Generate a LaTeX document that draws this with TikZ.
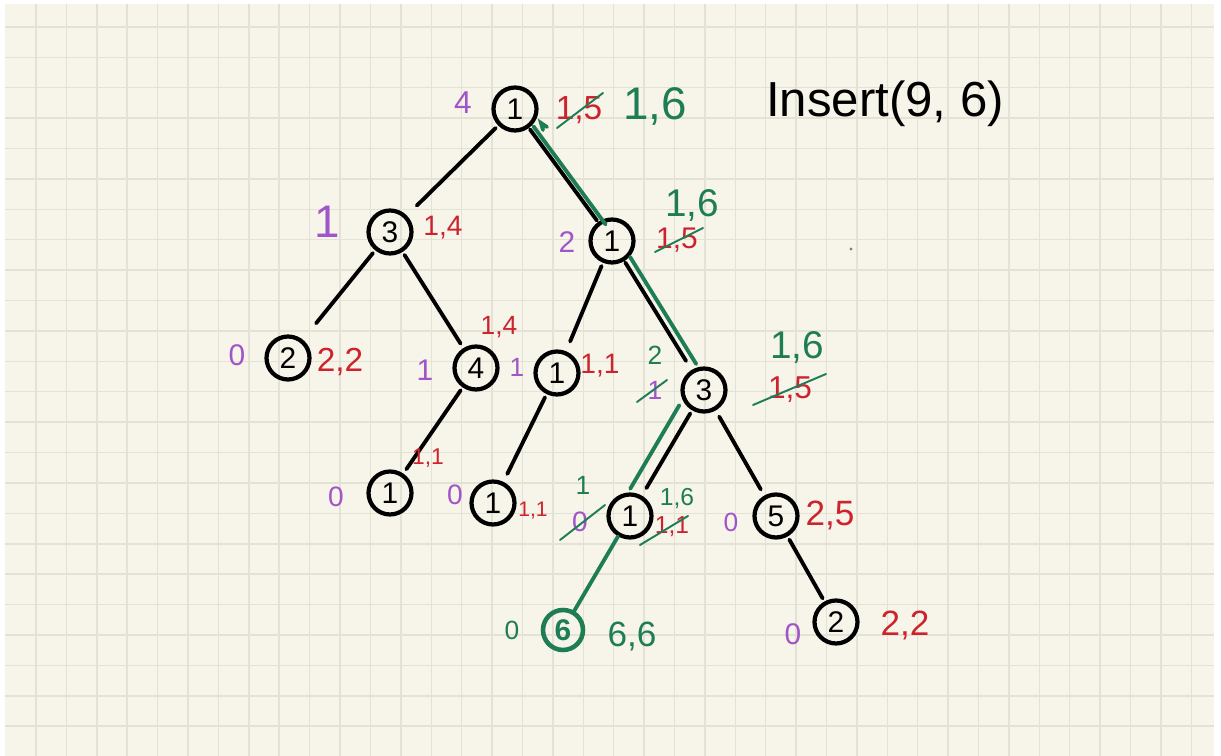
\documentclass[tikz,border=0pt]{standalone}
\usepackage{fontspec}
\setmainfont{Liberation Sans}
\definecolor{paper}{RGB}{247,245,233}
\definecolor{gridc}{RGB}{228,225,213}
\definecolor{pur}{RGB}{160,85,200}
\definecolor{rd}{RGB}{205,35,45}
\definecolor{gr}{RGB}{30,125,85}
\newcommand{\fsz}[1]{\fontsize{#1}{#1}\selectfont}
\begin{document}
\begin{tikzpicture}[x=0.02cm,y=-0.02cm,
  gridline/.style={gridc,line width=0.8pt},
  tnode/.style={circle,draw=black,line width=2.4pt,minimum size=0.86cm,inner sep=0pt,font=\fsz{17}},
  newnode/.style={circle,draw=gr,text=gr,line width=2.6pt,minimum size=0.8cm,inner sep=0pt,font=\fsz{17}\bfseries},
  edge/.style={black,line width=2.2pt,line cap=round},
  gpath/.style={gr,line width=2.2pt,line cap=round},
  strike/.style={gr,line width=1.1pt,line cap=round},
  lab/.style={inner sep=0pt},
  pl/.style={lab,text=pur},
  rl/.style={lab,text=rd},
  gl/.style={lab,text=gr}]
\useasboundingbox (0,0) rectangle (1221,756);
\fill[white] (0,0) rectangle (1221,756);
\fill[paper] (5,4) rectangle (1214,756);
\foreach \k in {0,...,38} \draw[gridline] ({36+30.4*\k},4) -- ({36+30.4*\k},756);
\foreach \k in {0,...,23} \draw[gridline] (5,{27+30.4*\k}) -- (1214,{27+30.4*\k});

% tree nodes
\node[tnode] (root) at (515,109) {1};
\node[tnode] (a3) at (390,232) {3};
\node[tnode] (r1) at (612,241) {1};
\node[tnode] (a2) at (288,358) {2};
\node[tnode] (a4) at (476,368) {4};
\node[tnode] (m1) at (557,373) {1};
\node[tnode] (r3) at (704,390) {3};
\node[tnode] (l1) at (390,493) {1};
\node[tnode] (b1) at (493,503) {1};
\node[tnode] (c1) at (630,516) {1};
\node[tnode] (n5) at (776,516) {5};
\node[newnode] (n6) at (563,630) {6};
\node[tnode] (n2) at (836,622) {2};

% edges
\draw[edge,shorten <=2pt,shorten >=8pt] (root) -- (a3);
\draw[edge,shorten <=1pt,shorten >=1pt] (root) -- (r1);
\draw[edge,shorten <=2pt,shorten >=12pt] (a3) -- (a2);
\draw[edge,shorten <=2pt,shorten >=3pt] (a3) -- (a4);
\draw[edge,shorten <=2pt,shorten >=3pt] (a4) -- (l1);
\draw[edge,shorten <=2pt,shorten >=6pt] (r1) -- (m1);
\draw[edge,shorten <=1pt,shorten >=6pt] (r1) -- (r3);
\draw[edge,shorten <=2pt,shorten >=5pt] (m1) -- (b1);
\draw[edge,shorten <=2pt,shorten >=5pt] (r3) -- (c1);
\draw[edge,shorten <=4pt,shorten >=4pt] (r3) -- (n5);
\draw[edge,shorten <=2pt,shorten >=2pt] (n5) -- (n2);

% insertion path (green)
\draw[gpath,shorten <=13pt,shorten >=11pt] ([shift={(5,-1)}]root.center) -- ([shift={(5,-1)}]r1.center);
\draw[gpath] ([shift={(5,-1)}]root.center) ++(27,19) -- ++(-6,-4) -- ++(2,7);
\draw[gpath,shorten <=12pt,shorten >=16pt] ([shift={(7,-2)}]r1.center) -- ([shift={(7,-2)}]r3.center);
\draw[gpath,shorten <=12pt,shorten >=16pt] ([shift={(-14,-3)}]r3.center) -- ([shift={(-14,-3)}]c1.center);
\draw[gpath,shorten <=0pt,shorten >=0pt] (c1) -- (n6);

% labels
\node[pl,font=\fsz{18}] (h0) at (463,103) {4};
\node[rl,font=\fsz{19}] (s0) at (579,110) {1,5};
\draw[strike] ([shift={(-22,18)}]s0.center) -- ([shift={(24,-17)}]s0.center);
\node[gl,font=\fsz{26}] (s0n) at (655,106) {1,6};
\node[lab,font=\fsz{28}] (title) at (885,104) {Insert(9, 6)};

\node[pl,font=\fsz{26}] (h1) at (327,222) {1};
\node[rl,font=\fsz{16}] (s1) at (443,228) {1,4};
\node[pl,font=\fsz{17}] (h2) at (567,242) {2};
\node[gl,font=\fsz{22}] (s2n) at (692,205) {1,6};
\node[rl,font=\fsz{17}] (s2) at (677,240) {1,5};
\draw[strike] ([shift={(-22,12)}]s2.center) -- ([shift={(26,-12)}]s2.center);

\node[pl,font=\fsz{17}] (h3) at (237,355) {0};
\node[rl,font=\fsz{19}] (s3) at (340,362) {2,2};
\node[rl,font=\fsz{15}] (s4) at (499,327) {1,4};
\node[pl,font=\fsz{17}] (h4) at (425,370) {1};
\node[pl,font=\fsz{15}] (h5) at (517,367) {1};
\node[rl,font=\fsz{16}] (s5) at (600,366) {1,1};
\node[gl,font=\fsz{15}] (h6n) at (655,355) {2};
\node[pl,font=\fsz{15}] (h6) at (655,390) {1};
\draw[strike] ([shift={(-18,12)}]h6.center) -- ([shift={(12,-10)}]h6.center);
\node[gl,font=\fsz{22}] (s6n) at (797,347) {1,6};
\node[rl,font=\fsz{18}] (s6) at (790,390) {1,5};
\draw[strike] ([shift={(-37,15)}]s6.center) -- ([shift={(36,-16)}]s6.center);

\node[rl,font=\fsz{13}] (s7) at (428,458) {1,1};
\node[pl,font=\fsz{16}] (h7) at (336,497) {0};
\node[pl,font=\fsz{16}] (h8) at (455,495) {0};
\node[rl,font=\fsz{12}] (s8) at (533,511) {1,1};
\node[gl,font=\fsz{15}] (h9n) at (583,485) {1};
\node[pl,font=\fsz{16}] (h9) at (580,522) {0};
\draw[strike] ([shift={(-20,18)}]h9.center) -- ([shift={(25,-17)}]h9.center);
\node[gl,font=\fsz{14}] (s9n) at (677,498) {1,6};
\node[rl,font=\fsz{14}] (s9) at (672,527) {1,1};
\draw[strike] ([shift={(-32,18)}]s9.center) -- ([shift={(16,-11)}]s9.center);
\node[pl,font=\fsz{15}] (h10) at (731,522) {0};
\node[rl,font=\fsz{20}] (s10) at (830,515) {2,5};
\node[gl,font=\fsz{15}] (h11) at (512,630) {0};
\node[gl,font=\fsz{20}] (s11) at (632,636) {6,6};
\node[pl,font=\fsz{17}] (h12) at (793,634) {0};
\node[rl,font=\fsz{20}] (s12) at (905,625) {2,2};
\fill[gray] (851,249) circle (1.6);
\end{tikzpicture}
\end{document}
